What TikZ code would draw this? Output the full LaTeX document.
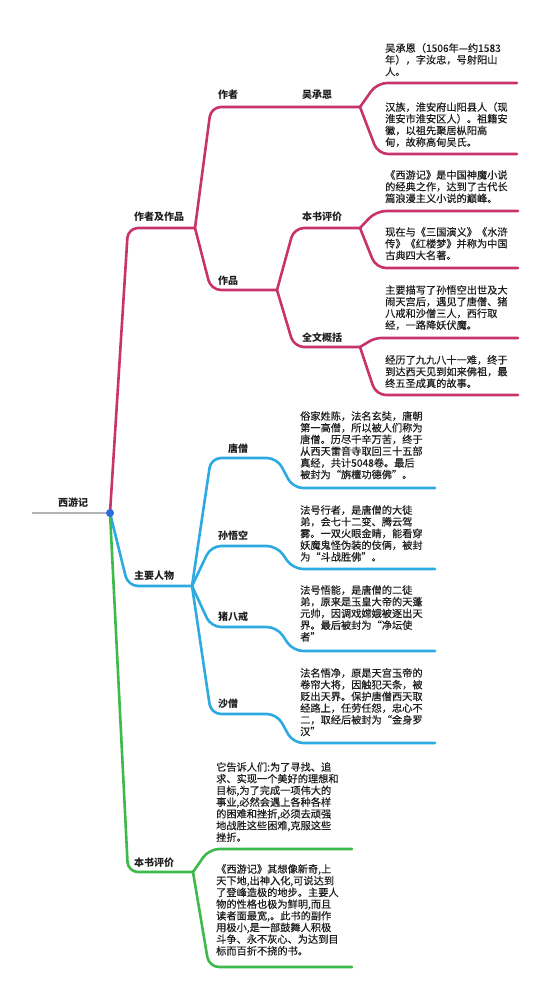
\documentclass[tikz,border=0pt]{standalone}
\usepackage{fontspec}
\newfontfamily\cjk{Noto Sans CJK SC}
\newfontfamily\cjkm[FakeBold=0.4]{Noto Sans CJK SC}
\definecolor{pinkc}{HTML}{C8336B}
\definecolor{bluec}{HTML}{2DAAE1}
\definecolor{greenc}{HTML}{3DBA4A}
\definecolor{grayc}{HTML}{B4B4B4}
\definecolor{dotc}{HTML}{2C6CE0}
\definecolor{txt}{HTML}{1E1E1E}
\begin{document}
\begin{tikzpicture}[x=1pt,y=-1pt,
  conn/.style={line width=2.6pt, rounded corners=10pt, line cap=round, line join=round},
  pconn/.style={conn, draw=pinkc},
  bconn/.style={conn, draw=bluec},
  gconn/.style={conn, draw=greenc},
  lbl/.style={anchor=base west, inner sep=0pt, font=\cjk\bfseries\fontsize{10}{12}\selectfont, text=txt},
  body/.style={anchor=north west, inner sep=0pt, align=left, font=\cjkm\fontsize{10.2}{11.7}\selectfont, text=txt}]
\useasboundingbox[fill=white] (0,0) rectangle (551,1000);

% named points
\coordinate (root) at (110,513);
\coordinate (gstart) at (32,513);
\coordinate (p1) at (195,228);
\coordinate (zz) at (360,107);
\coordinate (zp) at (277,290);
\coordinate (pj) at (360,228);
\coordinate (qw) at (360,347);
\coordinate (zA) at (517,83);
\coordinate (zB) at (517,154);
\coordinate (pjA) at (518,211);
\coordinate (pjB) at (518,268);
\coordinate (qwA) at (518,338);
\coordinate (qwB) at (518,395);
\coordinate (b0) at (192,586);
\coordinate (tsE) at (435,488);
\coordinate (swE) at (435,569);
\coordinate (zbE) at (435,651);
\coordinate (ssE) at (435,743);
\coordinate (g0) at (193,872);
\coordinate (gA) at (352,849);
\coordinate (gB) at (352,967);

% pink branch
\draw[pconn] (root) -- (128,228) -- (p1);
\draw[pconn] (p1) -- (211,107) -- (zz);
\draw[pconn] (zz) -- (377,83) -- (zA);
\draw[pconn] (zz) -- (378,154) -- (zB);
\draw[pconn] (p1) -- (211,290) -- (zp);
\draw[pconn] (zp) -- (294,228) -- (pj);
\draw[pconn] (zp) -- (294,347) -- (qw);
\draw[pconn] (pj) -- (376,211) -- (pjA);
\draw[pconn] (pj) -- (376,268) -- (pjB);
\draw[pconn, rounded corners=6pt] (qw) -- (375,338) -- (qwA);
\draw[pconn] (qw) -- (376,395) -- (qwB);

% blue branch
\draw[bconn] (root) -- (128,586) -- (b0);
\draw[bconn] (b0) -- (211,458) -- (277,458) -- (293,488) -- (tsE);
\draw[bconn] (b0) -- (211,546) -- (277,546) -- (293,569) -- (swE);
\draw[bconn] (b0) -- (211,627) -- (277,627) -- (293,651) -- (zbE);
\draw[bconn] (b0) -- (211,714) -- (277,714) -- (293,743) -- (ssE);

% green branch
\draw[gconn] (root) -- (128,872) -- (g0);
\draw[gconn] (g0) -- (209,849) -- (gA);
\draw[gconn] (g0) -- (209,967) -- (gB);

% root
\draw[line width=2.6pt, draw=grayc] (gstart) -- (root);
\fill[dotc] (root) circle (4);

% labels
\node[lbl] (xyj) at (58,506) {西游记};
\node[lbl] (zzjzp) at (134,221) {作者及作品};
\node[lbl] (zuozhe) at (218,99) {作者};
\node[lbl] (wce) at (302,99) {吴承恩};
\node[lbl] (zuopin) at (218,284) {作品};
\node[lbl] (bspj1) at (302,221) {本书评价};
\node[lbl] (qwgk) at (302,341) {全文概括};
\node[lbl] (zyrw) at (134,579) {主要人物};
\node[lbl] (ts) at (228,452) {唐僧};
\node[lbl] (swk) at (218,539) {孙悟空};
\node[lbl] (zbj) at (218,620) {猪八戒};
\node[lbl] (sz) at (218,707) {沙僧};
\node[lbl] (bspj2) at (134,866) {本书评价};

% body texts
\node[body] (a1) at (385,43) {吴承恩（1506年—约1583\\年），字汝忠，号射阳山\\人。};
\node[body] (a2) at (385,102) {汉族，淮安府山阳县人（现\\淮安市淮安区人）。祖籍安\\徽，以祖先聚居枞阳高\\甸，故称高甸吴氏。};
\node[body] (b1) at (385,170) {《西游记》是中国神魔小说\\的经典之作，达到了古代长\\篇浪漫主义小说的巅峰。};
\node[body] (b2) at (385,227) {现在与《三国演义》《水浒\\传》《红楼梦》并称为中国\\古典四大名著。};
\node[body] (c1) at (385,285) {主要描写了孙悟空出世及大\\闹天宫后，遇见了唐僧、猪\\八戒和沙僧三人，西行取\\经，一路降妖伏魔。};
\node[body] (c2) at (385,355) {经历了九九八十一难，终于\\到达西天见到如来佛祖，最\\终五圣成真的故事。};
\node[body] (t1) at (300,411) {俗家姓陈，法名玄奘，唐朝\\第一高僧，所以被人们称为\\唐僧。历尽千辛万苦，终于\\从西天雷音寺取回三十五部\\真经，共计5048卷。最后\\被封为“旃檀功德佛”。};
\node[body] (t2) at (300,505) {法号行者，是唐僧的大徒\\弟，会七十二变、腾云驾\\雾。一双火眼金睛，能看穿\\妖魔鬼怪伪装的伎俩，被封\\为“斗战胜佛”。};
\node[body] (t3) at (300,585) {法号悟能，是唐僧的二徒\\弟，原来是玉皇大帝的天蓬\\元帅，因调戏嫦娥被逐出天\\界。最后被封为“净坛使\\者”};
\node[body] (t4) at (300,668) {法名悟净，原是天宫玉帝的\\卷帘大将，因触犯天条，被\\贬出天界。保护唐僧西天取\\经路上，任劳任怨，忠心不\\二，取经后被封为“金身罗\\汉”};
\node[body] (g1) at (216,762) {它告诉人们:为了寻找、追\\求、实现一个美好的理想和\\目标,为了完成一项伟大的\\事业,必然会遇上各种各样\\的困难和挫折,必须去顽强\\地战胜这些困难,克服这些\\挫折。};
\node[body] (g2) at (216,864) {《西游记》其想像新奇,上\\天下地,出神入化,可说达到\\了登峰造极的地步。主要人\\物的性格也极为鲜明,而且\\读者面最宽,。此书的副作\\用极小,是一部鼓舞人积极\\斗争、永不灰心、为达到目\\标而百折不挠的书。};
\end{tikzpicture}
\end{document}
